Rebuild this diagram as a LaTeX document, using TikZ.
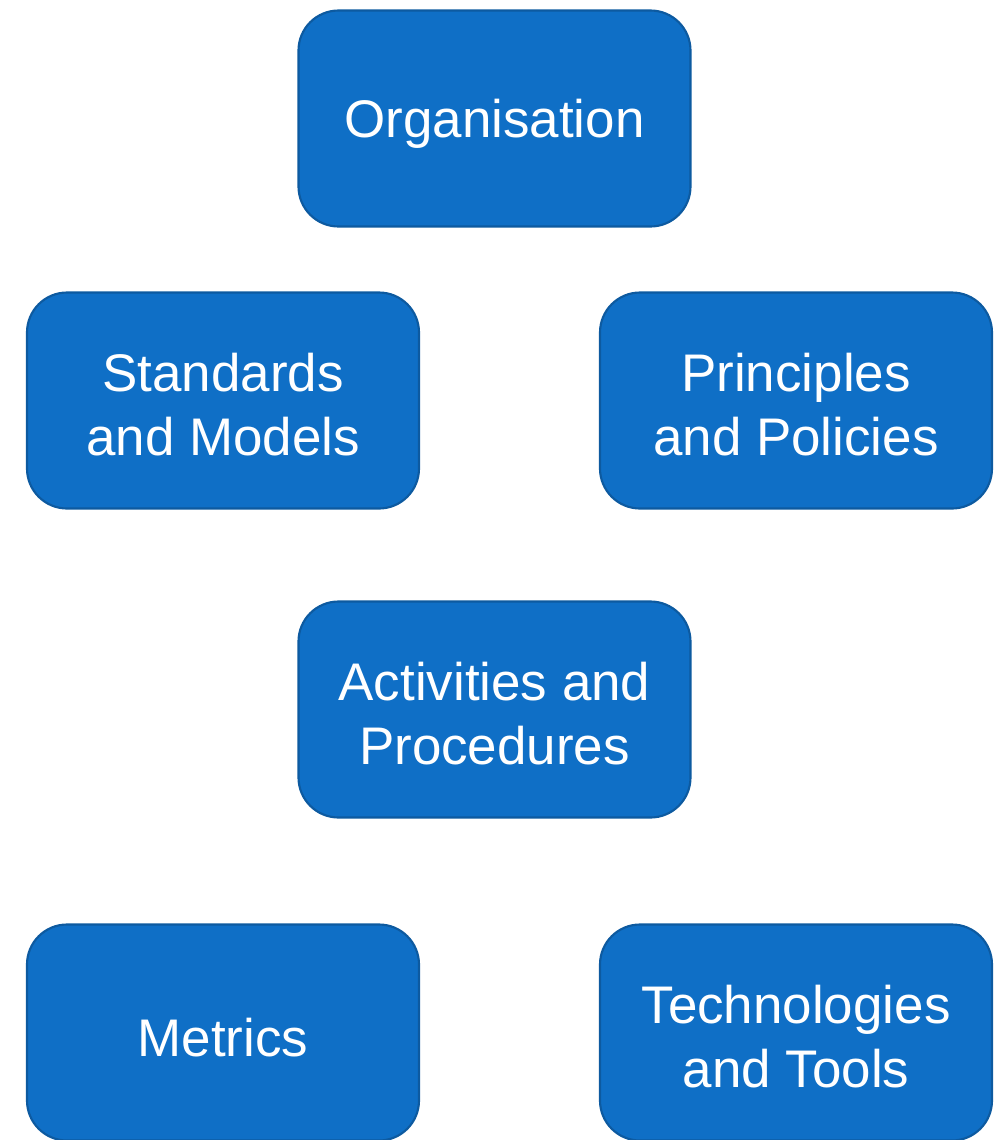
\documentclass[tikz,border=0pt]{standalone}
\usepackage{fontspec}
\setmainfont{Liberation Sans}
\definecolor{boxfill}{HTML}{0F6FC6}
\definecolor{boxline}{HTML}{0D5AA0}
\begin{document}
\begin{tikzpicture}[x=0.75pt,y=-0.75pt,
  blockbox/.style={draw=boxline,line width=1.6pt,fill=boxfill,rounded corners=30pt,
    inner sep=0pt,minimum width=294pt,minimum height=162pt},
  lbl/.style={text=white,align=center,inner sep=0pt,
    font=\fontsize{39.7pt}{47.5pt}\selectfont},
  lblone/.style={lbl,yshift=-3.8pt},
  lbltwo/.style={lbl,yshift=-3pt},
]
\useasboundingbox (0,0) rectangle (1005,1140);
\node[blockbox,label={[lblone]center:Organisation}] (org) at (494.5,118.5) {};
\node[blockbox,label={[lbltwo]center:{Standards\\and Models}}] (std) at (223,400.5) {};
\node[blockbox,label={[lbltwo]center:{Principles\\and Policies}}] (pri) at (796,400.5) {};
\node[blockbox,label={[lbltwo]center:{Activities and\\Procedures}}] (act) at (494.5,709.5) {};
\node[blockbox,label={[lblone]center:Metrics}] (met) at (223,1032.5) {};
\node[blockbox,label={[lbltwo]center:{Technologies\\and Tools}}] (tec) at (796,1032.5) {};
\end{tikzpicture}
\end{document}
